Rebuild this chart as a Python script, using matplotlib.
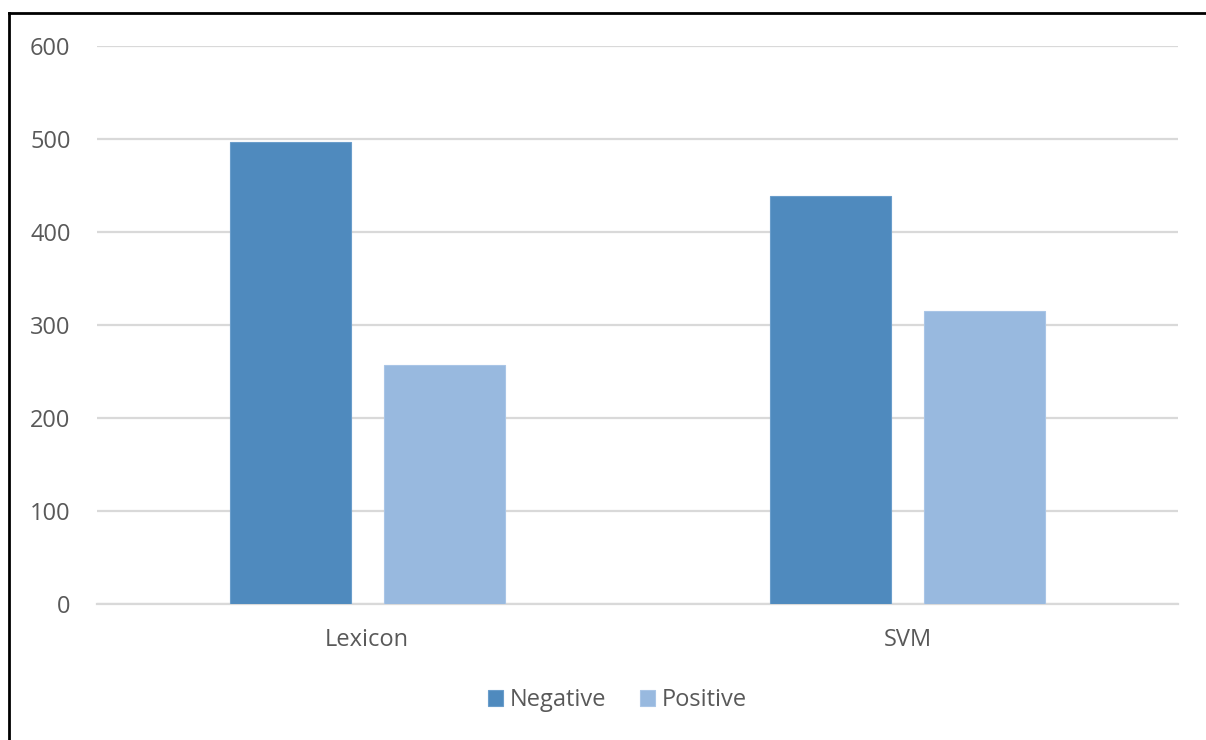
import numpy as np
import matplotlib.pyplot as plt

# Sentiment counts per classifier
methods = ['Lexicon', 'SVM']
negative = [497, 439]
positive = [257, 315]
y_ticks = [0, 100, 200, 300, 400, 500, 600]

plt.rcParams['font.family'] = ['Open Sans', 'DejaVu Sans']

fig = plt.figure(figsize=(12.06, 7.40), dpi=100)
ax = fig.add_axes([0.0804, 0.1838, 0.8964, 0.754])

x = np.arange(len(methods))
width = 0.224
offset = 0.1425

ax.bar(x - offset, negative, width, color='#4F8ABE', edgecolor='#6A9DCB',
       linewidth=0.8, label='Negative', zorder=3)
ax.bar(x + offset, positive, width, color='#98B9DF', edgecolor='#A9C5E6',
       linewidth=0.8, label='Positive', zorder=3)

ax.set_xlim(-0.5, 1.5)
ax.set_ylim(0, 600)
ax.set_yticks(y_ticks)
ax.set_xticks(x)
ax.set_xticklabels(methods)

ax.yaxis.grid(True, color='#D9D9D9', linewidth=1.6, zorder=0)
ax.set_axisbelow(True)
for side in ['top', 'right', 'left']:
    ax.spines[side].set_visible(False)
ax.spines['bottom'].set_color('#D9D9D9')
ax.spines['bottom'].set_linewidth(1.6)

ax.tick_params(axis='y', length=0, pad=19, labelsize=17, labelcolor='#595959')
ax.tick_params(axis='x', length=0, pad=17, labelsize=17, labelcolor='#595959')

leg = fig.legend(loc='center', bbox_to_anchor=(0.512, 1 - 700 / 740), ncol=2,
                 frameon=False, fontsize=17, handlelength=0.65, handleheight=0.65,
                 handletextpad=0.3, columnspacing=1.4)
for t in leg.get_texts():
    t.set_color('#595959')

# outer frame along the left and top edges
fig.add_artist(plt.Line2D([0.0075, 0.0075], [0, 1 - 13 / 740], color='black',
                          linewidth=2, transform=fig.transFigure))
fig.add_artist(plt.Line2D([0.0075, 1.0], [1 - 13 / 740, 1 - 13 / 740], color='black',
                          linewidth=2, transform=fig.transFigure))

fig.savefig('out.png', dpi=100)
